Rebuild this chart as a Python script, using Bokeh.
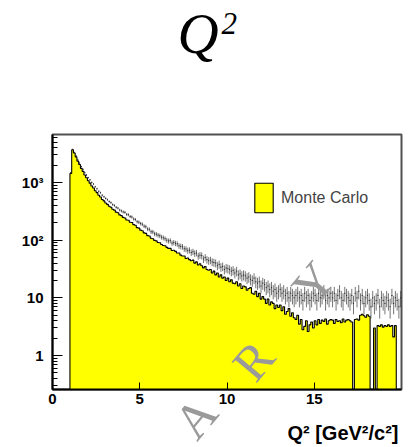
import numpy as np
from bokeh.plotting import figure
from bokeh.models import Range1d, FixedTicker, Label, Legend, LegendItem
from bokeh.embed import file_html
from bokeh.resources import INLINE

# Q^2 histogram: 0.1 GeV^2/c^2 bins starting at 1.0
bin_start = 1.0
bin_width = 0.1

mc_counts = [
    1430, 3700, 3240, 2780, 2350, 2050, 1760, 1560, 1350, 1210,
    1070, 975, 870, 805, 720, 668, 600, 562, 508, 480,
    440, 418, 388, 372, 344, 332, 306, 298, 274, 266,
    248, 242, 224, 221, 204, 202, 186, 181, 165, 162,
    149, 146, 134, 131, 120, 118, 108, 106, 99, 97,
    91, 90, 84, 81, 80, 75, 72, 72, 66, 67,
    64, 60, 60, 55, 53, 53, 48, 49, 46, 44,
    45, 40, 42, 37, 39, 36, 33, 35, 31, 30,
    31, 27, 29, 25, 27, 23, 25, 22, 23, 20,
    22, 19, 20.5, 18, 17.5, 19, 16, 17.5, 14.5, 16,
    15.5, 13.5, 14.5, 15, 12, 11.5, 13, 10.5, 12, 9.5,
    10.5, 9.5, 8, 9.5, 7.5, 8.5, 8, 6.5, 7.5, 6.8,
    7.5, 6, 7, 5.2, 5.8, 6.5, 4.8, 5.5, 4.5, 4.2,
    5, 3.5, 4.2, 2.8, 3.2, 4.0, 2.6, 3.4, 3.8, 3.0,
    4.0, 3.4, 4.2, 3.6, 4.1, 3.9, 4.3, 3.5, 4.0, 4.2,
    4.1, 3.6, 4.2, 3.9, 4.0, 3.7, 4.3, 3.8, 4.1, 4.2,
    4.0, 3.8, 0, 4.2, 4.3, 4.1, 5.0, 5.2, 4.9, 4.6,
    5.1, 4.8, 0, 0, 3.0, 0, 3.3, 3.2, 3.4, 3.1,
    3.3, 3.2, 3.4, 3.2, 3.3, 2.1, 3.3, 0, 0, 0,
]

data_counts = [
    1480, 3760, 3330, 2900, 2470, 2170, 1890, 1690, 1480, 1350,
    1215, 1115, 1005, 940, 845, 780, 705, 665, 602, 565,
    530, 503, 468, 448, 414, 400, 372, 360, 333, 322,
    309, 303, 280, 276, 257, 252, 233, 228, 209, 205,
    194, 189, 175, 171, 156, 154, 140, 139, 129, 127,
    122, 119, 113, 110, 106, 100, 97, 98, 89, 91,
    88, 86, 80, 78, 77, 71, 70, 66, 67, 61,
    63, 59, 60, 53, 55, 54, 47, 50, 46, 44,
    45, 42, 41, 40, 36, 38, 34, 35, 31, 33,
    32, 31, 29, 30, 27, 29, 25, 26, 24, 25,
    24, 22, 23, 21, 20, 22, 19, 18, 19, 16,
    18, 17, 15, 16, 14, 15, 13, 14, 12, 13,
    14, 12, 13, 11, 12, 10, 12, 11, 10, 11,
    12, 10, 11, 9, 12, 10, 11, 9, 10, 12,
    11, 9, 12, 10, 11, 13, 9, 11, 10, 12,
    10, 12, 9, 11, 13, 10, 9, 12, 11, 10,
    9, 11, 8, 12, 10, 13, 9, 11, 8, 10,
    11, 9, 7, 10, 8, 9, 11, 7, 10, 9,
    8, 10, 9, 7, 11, 8, 10, 9, 7, 10,
]

x_ticks = [0, 5, 10, 15]
y_ticks = [1, 10, 100, 1000]
y_tick_labels = {1: "1", 10: "10", 100: "10²", 1000: "10³"}

floor = 1e-3
n = len(mc_counts)
edges = bin_start + bin_width * np.arange(n + 1)
lo, hi = edges[:-1], edges[1:]
centers = 0.5 * (lo + hi)

p = figure(width=408, height=447, output_backend="svg", toolbar_location=None,
           y_axis_type="log",
           x_range=Range1d(0, 20), y_range=Range1d(0.257, 6800),
           min_border_left=52, min_border_right=7,
           min_border_top=134, min_border_bottom=58)
p.background_fill_color = "white"
p.border_fill_color = "white"
p.xgrid.visible = False
p.ygrid.visible = False
p.outline_line_color = "#505050"
p.outline_line_width = 2

# Monte Carlo: filled step histogram
mc = np.maximum(np.asarray(mc_counts, dtype=float), floor)
px = np.concatenate([[edges[0]], np.column_stack([lo, hi]).ravel(), [edges[-1]]])
py = np.concatenate([[floor], np.repeat(mc, 2), [floor]])
mc_r = p.patch(px, py, fill_color="#ffff00", line_color="black", line_width=1.1)

# Data: short horizontal bars with sqrt(N) error bars
d = np.asarray(data_counts, dtype=float)
err = np.sqrt(d)
half = 0.3 * bin_width
p.segment(x0=centers - half, y0=d, x1=centers + half, y1=d,
          line_color="black", line_width=1)
p.segment(x0=centers, y0=np.maximum(d - err, floor), x1=centers, y1=d + err,
          line_color="#3a3a3a", line_width=0.7)

for ax in (p.xaxis[0], p.yaxis[0]):
    ax.axis_line_color = "black"
    ax.axis_line_width = 2
    ax.major_tick_line_color = "black"
    ax.minor_tick_line_color = "black"
    ax.major_tick_out = 0
    ax.minor_tick_out = 0
    ax.major_label_text_font = "Liberation Sans"
    ax.major_label_text_font_style = "bold"
    ax.major_label_text_font_size = "15px"
    ax.major_label_text_color = "black"

p.xaxis.ticker = FixedTicker(ticks=x_ticks)
p.xaxis.major_tick_in = 7
p.xaxis.minor_tick_in = 0
p.xaxis.major_label_standoff = 4

minor = [m * 10.0 ** k for k in range(-1, 4) for m in range(2, 10)]
p.yaxis.ticker = FixedTicker(ticks=y_ticks, minor_ticks=minor)
p.yaxis.major_tick_in = 10
p.yaxis.minor_tick_in = 5
p.yaxis.major_label_standoff = 9
p.yaxis.major_label_overrides = y_tick_labels

legend = Legend(items=[LegendItem(label="Monte Carlo", renderers=[mc_r])],
                location=(200, 173), glyph_width=23, glyph_height=37,
                label_standoff=6, padding=0, margin=0, spacing=0,
                label_text_font="Liberation Sans", label_text_font_size="16px",
                border_line_alpha=0, background_fill_alpha=0)
p.add_layout(legend)

# Texts outside the frame live in the side panels (canvas coordinates)
mark_style = dict(x_units="canvas", y_units="canvas", angle=50, angle_units="deg",
                  text_align="center", text_baseline="middle",
                  text_font="Liberation Serif", text_font_size="50px",
                  text_color="#9a9a9a")

# Title  Q^2
p.add_layout(Label(x=177, y=64, x_units="canvas", y_units="canvas", text="Q",
                   text_font="Liberation Serif", text_font_style="italic",
                   text_font_size="57px", text_color="black"), "above")
p.add_layout(Label(x=221, y=33, x_units="canvas", y_units="canvas", text="2",
                   text_font="Liberation Serif", text_font_style="italic",
                   text_font_size="31px", text_color="black"), "left")

# x-axis title
p.add_layout(Label(x=398, y=432, x_units="canvas", y_units="canvas",
                   text="Q² [GeV²/c²]", text_align="right", text_baseline="middle",
                   text_font="Liberation Sans", text_font_style="bold",
                   text_font_size="20px", text_color="black"), "below")

# Diagonal watermark
p.add_layout(Label(x=195, y=417, text="A", **mark_style), "above")
p.add_layout(Label(x=253, y=360, text="R", **mark_style))
p.add_layout(Label(x=313, y=282, text="Y", **mark_style))

open("out.html", "w").write(file_html(p, INLINE))
